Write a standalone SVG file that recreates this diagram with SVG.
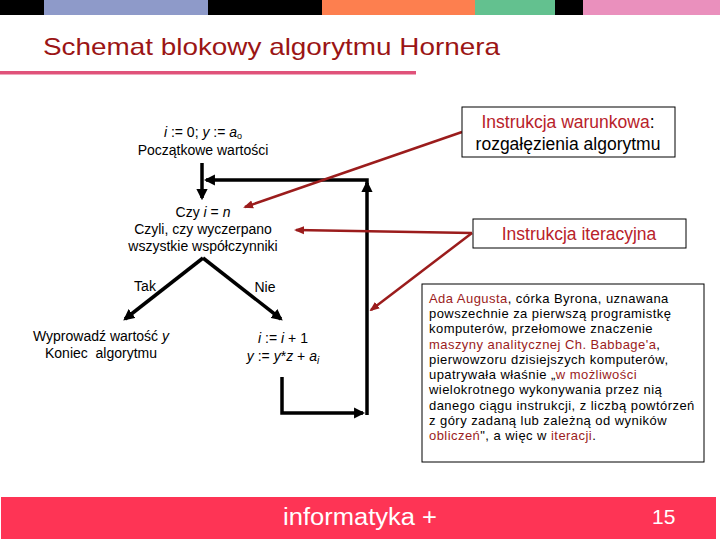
<svg xmlns="http://www.w3.org/2000/svg" width="720" height="540" viewBox="0 0 720 540">
<style>
text{font-family:"Liberation Sans",Arial,sans-serif;}
.fc{font-size:14px;fill:#000;text-anchor:middle;}
.blk{stroke:#000;stroke-width:3.5;fill:none;}
.red{stroke:#9b1c1c;stroke-width:2.5;fill:none;}
.box{fill:#fff;stroke:#000;stroke-width:1;}
.rt{fill:#b8222a;}
.dr{fill:#9b1c1c;}
.ada{font-size:13px;fill:#000;letter-spacing:0.45px;}
.bt{font-size:17.5px;text-anchor:middle;}
</style>
<defs>
<marker id="ab" viewBox="0 0 10 10" refX="8" refY="5" markerWidth="3.2" markerHeight="3.2" orient="auto" markerUnits="strokeWidth"><path d="M0,0 L10,5 L0,10 z" fill="#000"/></marker>
<marker id="ar" viewBox="0 0 10 10" refX="8" refY="5" markerWidth="4" markerHeight="4" orient="auto" markerUnits="strokeWidth"><path d="M0,1 L10,5 L0,9 z" fill="#9b1c1c"/></marker>
</defs>
<rect width="720" height="540" fill="#fff"/>
<g id="topbar">
<rect x="0" y="0" width="44" height="15" fill="#000"/>
<rect x="44" y="0" width="164" height="15" fill="#8e9ac9"/>
<rect x="208" y="0" width="114" height="15" fill="#000"/>
<rect x="322" y="0" width="153" height="15" fill="#fd7f4f"/>
<rect x="475" y="0" width="80" height="15" fill="#63c18f"/>
<rect x="555" y="0" width="28" height="15" fill="#000"/>
<rect x="583" y="0" width="137" height="15" fill="#ea90bd"/>
</g>
<g id="title">
<text x="43" y="55" font-size="24" fill="#9b1515" textLength="457" lengthAdjust="spacingAndGlyphs">Schemat blokowy algorytmu Hornera</text>
<rect x="0" y="71" width="416" height="3.5" fill="#e0527a"/>
</g>
<g id="connectors">
<line class="blk" x1="202" y1="163" x2="202" y2="198" marker-end="url(#ab)"/>
<polyline class="blk" points="367,184 367,180 206,180" marker-end="url(#ab)"/>
<polyline class="blk" points="367,415 367,183" marker-end="url(#ab)"/>
<line class="blk" x1="203" y1="258" x2="125" y2="319" marker-end="url(#ab)"/>
<line class="blk" x1="203" y1="258" x2="281" y2="319" marker-end="url(#ab)"/>
<polyline class="blk" points="282,377 282,413 363,413" marker-end="url(#ab)"/>
<line class="red" x1="462" y1="132" x2="245" y2="207" marker-end="url(#ar)"/>
<line class="red" x1="472" y1="233" x2="296" y2="230" marker-end="url(#ar)"/>
<line class="red" x1="472" y1="233" x2="371" y2="310" marker-end="url(#ar)"/>
</g>
<g id="start">
<text class="fc" x="203" y="137"><tspan font-style="italic">i</tspan> := 0; <tspan font-style="italic">y</tspan> := <tspan font-style="italic">a</tspan><tspan font-size="9" dy="2">o</tspan></text>
<text class="fc" x="203" y="155">Początkowe wartości</text>
</g>
<g id="cond">
<text class="fc" x="203" y="217">Czy <tspan font-style="italic">i</tspan> = <tspan font-style="italic">n</tspan></text>
<text class="fc" x="203" y="234">Czyli, czy wyczerpano</text>
<text class="fc" x="203" y="251">wszystkie współczynniki</text>
</g>
<g id="labels">
<text class="fc" x="145" y="291">Tak</text>
<text class="fc" x="265" y="292">Nie</text>
</g>
<g id="end">
<text class="fc" x="101" y="341">Wyprowadź wartość <tspan font-style="italic">y</tspan></text>
<text class="fc" x="101" y="358" xml:space="preserve">Koniec  algorytmu</text>
</g>
<g id="step">
<text class="fc" x="283" y="343"><tspan font-style="italic">i</tspan>  := <tspan font-style="italic">i</tspan> + 1</text>
<text class="fc" x="283" y="361"><tspan font-style="italic">y</tspan> := <tspan font-style="italic">y</tspan>*<tspan font-style="italic">z</tspan> + <tspan font-style="italic">a</tspan><tspan font-size="10" dy="3" font-style="italic">i</tspan></text>
</g>
<g id="box-warunkowa">
<rect class="box" x="462" y="107" width="213" height="50"/>
<text class="bt" x="568" y="128"><tspan class="rt">Instrukcja warunkowa</tspan>:</text>
<text class="bt" x="568" y="150">rozgałęzienia algorytmu</text>
</g>
<g id="box-iteracyjna">
<rect class="box" x="473" y="219" width="213" height="29"/>
<text x="579" y="240" class="bt rt">Instrukcja iteracyjna</text>
</g>
<g id="box-ada">
<rect class="box" x="422" y="284" width="282" height="178"/>
<text class="ada" x="429" y="303"><tspan class="dr">Ada Augusta</tspan>, córka Byrona, uznawana</text>
<text class="ada" x="429" y="318">powszechnie za pierwszą programistkę</text>
<text class="ada" x="429" y="333">komputerów, przełomowe znaczenie</text>
<text class="ada" x="429" y="349"><tspan class="dr">maszyny analitycznej Ch. Babbage'a</tspan>,</text>
<text class="ada" x="429" y="364">pierwowzoru dzisiejszych komputerów,</text>
<text class="ada" x="429" y="379">upatrywała właśnie „<tspan class="dr">w możliwości</tspan></text>
<text class="ada dr" x="429" y="394">wielokrotnego wykonywania przez nią</text>
<text class="ada dr" x="429" y="410">danego ciągu instrukcji, z liczbą powtórzeń</text>
<text class="ada dr" x="429" y="425">z góry zadaną lub zależną od wyników</text>
<text class="ada" x="429" y="440"><tspan class="dr">obliczeń</tspan>", a więc w <tspan class="dr">iteracji</tspan>.</text>
</g>
<g id="footer">
<rect x="1" y="497" width="715" height="42" fill="#fe3455"/>
<text x="283" y="525" font-size="23" fill="#fff" font-family="'Open Sans',sans-serif" textLength="154" lengthAdjust="spacingAndGlyphs">informatyka +</text>
<text x="652" y="524" font-size="21" fill="#fff" font-family="'Open Sans',sans-serif">15</text>
</g>
</svg>
